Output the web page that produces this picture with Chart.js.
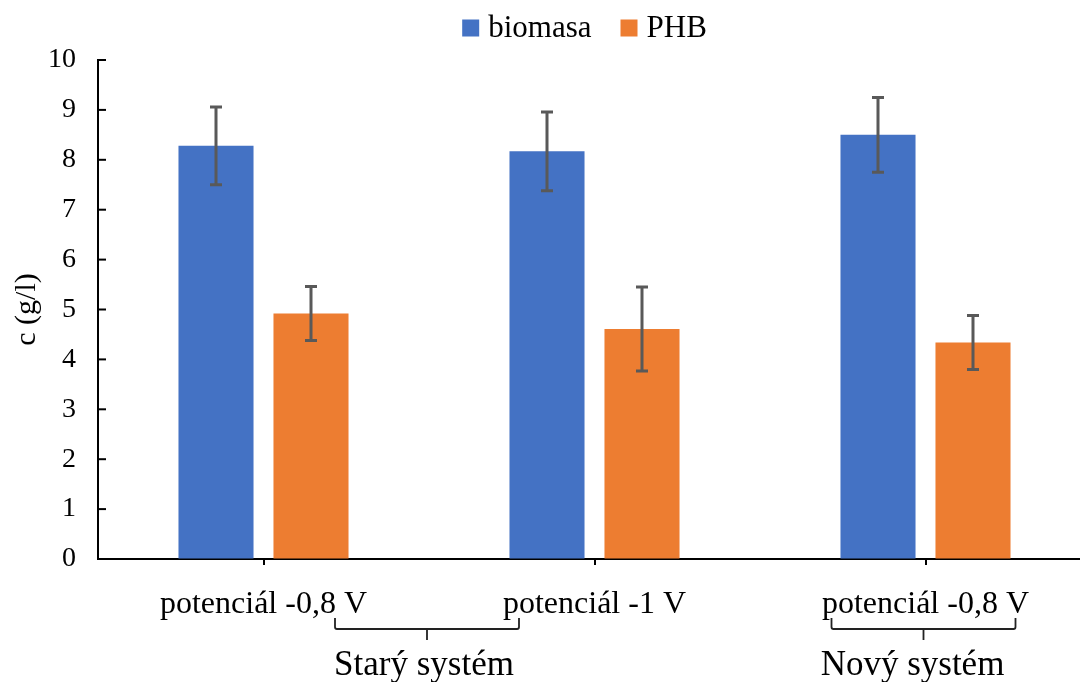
<!DOCTYPE html>
<html>
<head>
<meta charset="utf-8">
<script src="https://cdn.jsdelivr.net/npm/chart.js@4.4.0/dist/chart.umd.min.js"></script>
<style>
  html, body { margin:0; padding:0; background:#fff; overflow:hidden; }
  #wrap { width:1092px; height:682px; position:relative; }
</style>
</head>
<body>
<div id="wrap"><canvas id="chart"></canvas></div>
<script>
// Datos
const categories = ['potenciál -0,8 V', 'potenciál -1 V', 'potenciál -0,8 V'];
const groups = [ { label:'Starý systém', from:0, to:1 }, { label:'Nový systém', from:2, to:2 } ];
const seriesNames = ['biomasa', 'PHB'];
const biomasa    = [8.28, 8.17, 8.50];
const biomasaErr = [0.78, 0.79, 0.75];
const phb        = [4.92, 4.61, 4.34];
const phbErr     = [0.54, 0.84, 0.54];
const yTicks     = [0,1,2,3,4,5,6,7,8,9,10];

const FONT = '"Liberation Serif", "Times New Roman", serif';
const COLORS = ['#4472C4', '#ED7D31'];

// error bars sobre cada barra
const errorBars = {
  id:'errorBars',
  afterDatasetsDraw(chart){
    const {ctx} = chart, y = chart.scales.y;
    const errs = [biomasaErr, phbErr];
    ctx.save();
    ctx.strokeStyle = '#595959';
    ctx.lineWidth = 3;
    chart.data.datasets.forEach((ds, i)=>{
      chart.getDatasetMeta(i).data.forEach((bar, j)=>{
        const v = ds.data[j], e = errs[i][j];
        const top = y.getPixelForValue(v + e), bot = y.getPixelForValue(v - e);
        ctx.beginPath();
        ctx.moveTo(bar.x, top); ctx.lineTo(bar.x, bot);
        ctx.moveTo(bar.x - 6, top); ctx.lineTo(bar.x + 6, top);
        ctx.moveTo(bar.x - 6, bot); ctx.lineTo(bar.x + 6, bot);
        ctx.stroke();
      });
    });
    ctx.restore();
  }
};

// leyenda, ticks hacia adentro en eje Y, llaves de grupos
const extras = {
  id:'extras',
  afterDraw(chart){
    const {ctx} = chart, x = chart.scales.x, y = chart.scales.y;
    const area = chart.chartArea;
    ctx.save();

    // leyenda
    ctx.font = '31px ' + FONT;
    ctx.textBaseline = 'middle';
    ctx.textAlign = 'left';
    const gap = 9, sep = 29, box = 17;
    const widths = seriesNames.map(n => ctx.measureText(n).width);
    const total = widths.reduce((a,w)=> a + box + gap + w, 0) + sep * (seriesNames.length - 1);
    let lx = (area.left + area.right) / 2 - 10 - total / 2;
    const ly = 28;
    seriesNames.forEach((n, i)=>{
      ctx.fillStyle = COLORS[i];
      ctx.fillRect(lx, ly - box/2, box, box);
      ctx.fillStyle = '#000';
      ctx.fillText(n, lx + box + gap, ly + 1);
      lx += box + gap + widths[i] + sep;
    });

    // ticks eje Y
    ctx.strokeStyle = '#000';
    ctx.lineWidth = 2;
    yTicks.forEach(t=>{
      const py = y.getPixelForValue(t);
      ctx.beginPath(); ctx.moveTo(area.left, py); ctx.lineTo(area.left + 8, py); ctx.stroke();
    });

    // llaves
    const yb = area.bottom;
    const textShift = [-3, -11];
    ctx.lineWidth = 1.8;
    ctx.strokeStyle = '#222';
    ctx.fillStyle = '#000';
    ctx.font = '35px ' + FONT;
    ctx.textAlign = 'center';
    groups.forEach((g, k)=>{
      const cx = (x.getPixelForValue(g.from) + x.getPixelForValue(g.to)) / 2 - 2;
      const hw = 92;
      ctx.beginPath();
      ctx.moveTo(cx - hw, yb + 59);
      ctx.lineTo(cx - hw, yb + 68);
      ctx.quadraticCurveTo(cx - hw, yb + 70, cx - hw + 2, yb + 70);
      ctx.lineTo(cx + hw - 2, yb + 70);
      ctx.quadraticCurveTo(cx + hw, yb + 70, cx + hw, yb + 68);
      ctx.lineTo(cx + hw, yb + 59);
      ctx.moveTo(cx, yb + 70); ctx.lineTo(cx, yb + 81);
      ctx.stroke();
      ctx.fillText(g.label, cx + textShift[k], yb + 107);
    });
    ctx.restore();
  }
};

new Chart(document.getElementById('chart'), {
  type:'bar',
  data:{
    labels: categories,
    datasets: seriesNames.map((name, i)=>({
      label: name,
      data: i === 0 ? biomasa : phb,
      backgroundColor: COLORS[i],
      barPercentage: 0.79,
      categoryPercentage: 0.574
    }))
  },
  options:{
    responsive:true,
    maintainAspectRatio:false,
    animation:false,
    layout:{ padding:{ left:0, right:1, top:60, bottom:0 } },
    scales:{
      x:{
        grid:{ display:true, drawOnChartArea:false, drawTicks:true, tickLength:6, offset:false, color:'#000', lineWidth:2 },
        border:{ display:true, color:'#000', width:2 },
        ticks:{ color:'#000', font:{ family:FONT, size:32 }, padding:20, maxRotation:0, autoSkip:false },
        afterFit(s){ s.height = 123; }
      },
      y:{
        min:0, max:10,
        grid:{ display:true, drawOnChartArea:false, drawTicks:false },
        border:{ display:true, color:'#000', width:2 },
        ticks:{ stepSize:1, color:'#000', font:{ family:FONT, size:28 }, padding:22 },
        title:{ display:true, text:'c (g/l)', color:'#000', font:{ family:FONT, size:30 }, padding:{ top:9, bottom:0 } },
        afterFit(s){ s.width = 98; }
      }
    },
    plugins:{
      legend:{ display:false },
      tooltip:{ enabled:false }
    }
  },
  plugins:[errorBars, extras]
});
</script>
</body>
</html>
